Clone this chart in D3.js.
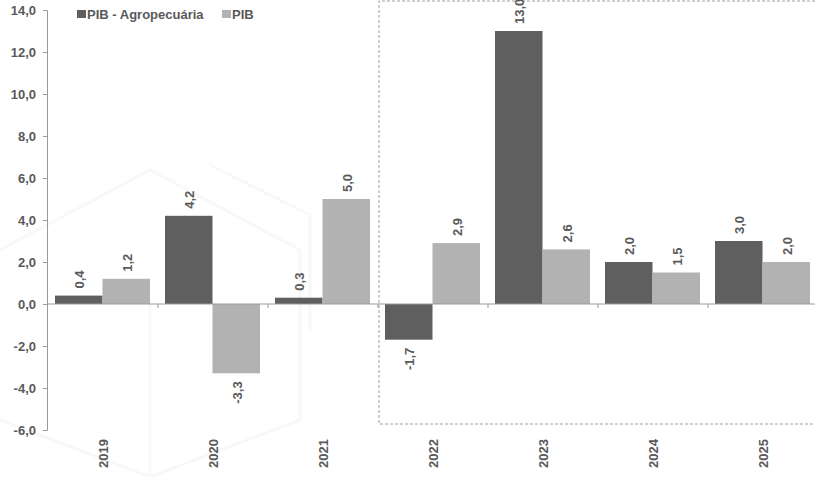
<!DOCTYPE html>
<html><head><meta charset="utf-8">
<script src="https://cdn.jsdelivr.net/npm/d3@7"></script>
<style>
body{margin:0;background:#fff;}
svg{display:block;font-family:"Liberation Sans",Arial,sans-serif;}
</style></head>
<body>
<svg id="c" width="815" height="477"></svg>
<script>
const years = ["2019","2020","2021","2022","2023","2024","2025"];
const agro = [0.4, 4.2, 0.3, -1.7, 13.0, 2.0, 3.0];
const pib = [1.2, -3.3, 5.0, 2.9, 2.6, 1.5, 2.0];
const seriesNames = ["PIB - Agropecuária", "PIB"];
const colors = ["#5f5f5f", "#b2b2b2"];
const yTicks = [-6,-4,-2,0,2,4,6,8,10,12,14];

const svg = d3.select("#c");
const textColor = "#595959";
const FS = 13;
const fmt = v => d3.format(".1f")(v).replace(".", ",").replace("\u2212", "-");

const x0 = d3.scaleBand().domain(years).range([48, 818]).paddingInner(0).paddingOuter(0);
const y = d3.scaleLinear().domain([-6, 14]).range([430, 10]);
const x1 = d3.scaleBand().domain([0,1]).range([7, x0.bandwidth()-8]).padding(0);

// faint watermark
const wm = svg.append("g").attr("stroke", "#f8f8f8").attr("stroke-width", 3).attr("fill", "none");
wm.append("path").attr("d", "M0,250 L150,170 L300,250 L300,420 L150,477 M150,477 L0,420 Z");
wm.append("path").attr("d", "M150,300 L150,477");
wm.append("path").attr("d", "M210,165 L310,215 L310,330");

// dashed box (forecast region)
svg.append("path")
  .attr("d", `M815,1 L${x0("2022")+1},1 L${x0("2022")+1},424 L815,424`)
  .attr("fill", "none").attr("stroke", "#a0a0a0").attr("stroke-width", 1).attr("stroke-dasharray", "3,2");

// y axis
const yAxis = svg.append("g").attr("transform", "translate(47,0)")
  .call(d3.axisLeft(y).tickValues(yTicks).tickSize(4).tickPadding(7).tickFormat(fmt));
yAxis.select(".domain").attr("stroke", "#9a9a9a");
yAxis.selectAll(".tick line").attr("stroke", "#9a9a9a");
yAxis.selectAll("text").attr("fill", textColor).attr("font-size", FS).attr("font-weight", "bold")
  .attr("font-family", "Liberation Sans, Arial, sans-serif");

// bars
const data = years.map((yr, i) => ({yr, vals: [agro[i], pib[i]]}));
const groups = svg.append("g").selectAll("g").data(data).join("g")
  .attr("transform", d => `translate(${x0(d.yr)},0)`);
groups.selectAll("rect").data(d => d.vals.map((v, k) => ({v, k}))).join("rect")
  .attr("x", d => x1(d.k)).attr("width", x1.bandwidth())
  .attr("y", d => y(Math.max(0, d.v))).attr("height", d => Math.abs(y(d.v) - y(0)))
  .attr("fill", d => colors[d.k]);

// value labels
groups.selectAll("text").data(d => d.vals.map((v, k) => ({v, k}))).join("text")
  .attr("transform", d => {
    const cx = x1(d.k) + x1.bandwidth()/2 + 1;
    const yy = d.v >= 0 ? y(d.v) - 7 : y(d.v) + 8;
    return `translate(${cx},${yy}) rotate(-90)`;
  })
  .attr("text-anchor", d => d.v >= 0 ? "start" : "end")
  .attr("dy", "0.35em")
  .attr("fill", textColor).attr("font-size", FS).attr("font-weight", "bold")
  .text(d => fmt(d.v));

// x axis line and ticks
const xAxis = svg.append("g").attr("transform", `translate(0,${y(0)})`);
xAxis.append("line").attr("x1", 47).attr("x2", 815).attr("stroke", "#9a9a9a");
xAxis.selectAll("line.t").data(years.slice(1)).join("line").attr("class", "t")
  .attr("x1", d => x0(d)).attr("x2", d => x0(d)).attr("y1", 0).attr("y2", 4).attr("stroke", "#9a9a9a");

// year labels
svg.append("g").selectAll("text").data(years).join("text")
  .attr("transform", d => `translate(${x0(d) + x0.bandwidth()/2},439) rotate(-90)`)
  .attr("text-anchor", "end").attr("dy", "0.35em")
  .attr("fill", textColor).attr("font-size", FS).attr("font-weight", "bold")
  .text(d => d);

// legend
const legX = [77, 222];
const leg = svg.append("g").selectAll("g").data(seriesNames).join("g")
  .attr("transform", (d, i) => `translate(${legX[i]},10)`);
leg.append("rect").attr("width", 9).attr("height", 8).attr("y", 0).attr("fill", (d, i) => colors[i]);
leg.append("text").attr("x", 10).attr("y", 4).attr("dy", "0.35em")
  .attr("fill", textColor).attr("font-size", FS).attr("font-weight", "bold").text(d => d);
</script>
</body></html>
